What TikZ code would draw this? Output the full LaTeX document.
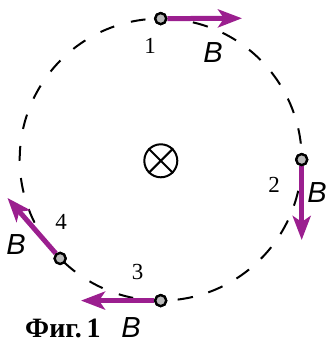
\documentclass[tikz,border=0pt]{standalone}
\usepackage{fontspec}
\setmainfont{Liberation Serif}
\newfontfamily\bfont{Liberation Sans}
\usetikzlibrary{arrows.meta,calc}
\definecolor{vecpurple}{HTML}{9B1F8F}
\tikzset{
  orbitL/.style={draw=black, line width=2pt, dash pattern=on 14.8pt off 17.3pt},
  orbitR/.style={draw=black, line width=2pt, dash pattern=on 15.5pt off 16pt},
  vec/.style={draw=vecpurple, line width=5pt, -{Stealth[length=24pt,width=18pt,inset=6pt]}},
  pt/.style={circle, draw=black, fill=black!27, line width=2.3pt, minimum size=11pt, inner sep=0pt},
  num/.style={font=\fontsize{23}{23}\selectfont, inner sep=0pt},
  blab/.style={font=\bfont\itshape\fontsize{29}{29}\selectfont, inner sep=0pt},
  cross/.style={circle, draw=black, line width=2pt, minimum size=33pt, inner sep=0pt}
}
\begin{document}
\begin{tikzpicture}[x=1pt,y=1pt]
\useasboundingbox (0,0) rectangle (327,342);
\coordinate (c) at (160.7,182.4);
% dashed orbit: left half and right half
\draw[orbitL] (c) ++(96.2:141) arc[start angle=96.2, end angle=272, radius=141];
\draw[orbitR] (c) ++(76.8:141) arc[start angle=76.8, end angle=-92, radius=141];
% field symbol
\node[cross] (x) at (160.8,181.2) {};
\draw[line width=2pt] (x.45) -- (x.225) (x.135) -- (x.315);
% points
\node[pt] (p1) at ($(c)+(90:141)$) {};
\node[pt] (p2) at ($(c)+(0:141)$) {};
\node[pt] (p3) at ($(c)+(270:141)$) {};
\node[pt] (p4) at ($(c)+(224.5:141)$) {};
\coordinate (e1) at (242,323.7);
\coordinate (e2) at (301.7,102);
\coordinate (e3) at (81,41.4);
\coordinate (e4) at (7.5,144);
\draw[vec] (p1.east) -- (e1);
\draw[vec] (p2.south) -- (e2);
\draw[vec] (p3.west) -- (e3);
\draw[vec] (p4) -- (e4);
\node[pt] at (p1) {};
\node[pt] at (p2) {};
\node[pt] at (p3) {};
\node[pt] at (p4) {};
% labels
\node[num] (n1) at (150,296) {1};
\node[num] (n2) at (274,157) {2};
\node[num] (n3) at (137.5,70.5) {3};
\node[num] (n4) at (61,120.5) {4};
\node[blab] (b1) at (213,289) {B};
\node[blab] (b2) at (317,149.5) {B};
\node[blab] (b3) at (131,14.5) {B};
\node[blab] (b4) at (16,97) {B};
\node[font=\bfseries\fontsize{28}{28}\selectfont, anchor=west, inner sep=0pt] (fig) at (25,14) {Фиг.\,1};
\end{tikzpicture}
\end{document}
